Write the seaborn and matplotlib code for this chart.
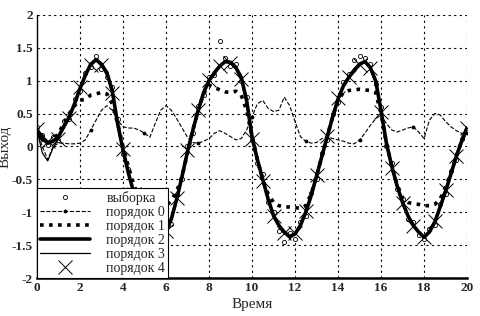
import numpy as np
import matplotlib
matplotlib.use('Agg')
import matplotlib.pyplot as plt
import seaborn as sns

# time grids
t = np.arange(0, 20.01, 0.25)
t4 = np.arange(0, 20.01, 0.5)

# sample (circles)
sample = [0.30, 0.18, 0.02, 0.14, 0.10, 0.38, 0.42, 0.72, 0.84, 1.12, 1.20, 1.38, 1.18, 1.05, 0.90, 0.42, -0.12, -0.35, -0.78, -0.90, -1.20,
          -1.25, -1.42, -1.35, -1.22, -1.18, -0.72, -0.50, 0.00, 0.20, 0.62, 0.78, 1.05, 1.08, 1.60, 1.35, 1.22, 1.25, 1.00, 0.75, 0.10,
          -0.25, -0.42, -0.85, -1.00, -1.28, -1.45, -1.32, -1.40, -1.15, -1.05, -0.70, -0.50, -0.10, 0.10, 0.50, 0.68, 0.98, 1.10, 1.32, 1.38,
          1.35, 1.25, 0.95, 0.60, 0.00, -0.25, -0.65, -0.80, -1.10, -1.15, -1.35, -1.40, -1.25, -1.20, -0.88, -0.72, -0.38, -0.20, 0.12, 0.22]

# order 0 (wavy thin dashed)
order0 = [0.25, 0.00, -0.20, 0.00, 0.05, 0.05, 0.04, 0.04, 0.05, 0.10, 0.25, 0.40, 0.55, 0.62, 0.55, 0.40, 0.30, 0.28, 0.28, 0.25, 0.20,
          0.14, 0.35, 0.55, 0.62, 0.55, 0.42, 0.28, 0.14, 0.06, 0.05, 0.08, 0.12, 0.20, 0.24, 0.20, 0.15, 0.10, 0.12, 0.25, 0.45,
          0.65, 0.70, 0.58, 0.53, 0.55, 0.75, 0.62, 0.38, 0.15, 0.08, 0.05, 0.06, 0.12, 0.15, 0.12, 0.10, 0.08, 0.05, 0.04, 0.10,
          0.20, 0.32, 0.42, 0.48, 0.35, 0.25, 0.22, 0.25, 0.28, 0.30, 0.22, 0.12, 0.40, 0.50, 0.48, 0.38, 0.30, 0.24, 0.20, 0.20]

# order 1 (thick dotted)
order1 = [0.25, 0.10, 0.05, 0.10, 0.20, 0.35, 0.50, 0.62, 0.70, 0.72, 0.78, 0.80, 0.82, 0.80, 0.65, 0.35, 0.00, -0.30, -0.58, -0.78, -0.88,
          -0.93, -0.95, -0.94, -0.90, -0.82, -0.68, -0.45, -0.10, 0.25, 0.55, 0.80, 0.93, 0.90, 0.86, 0.83, 0.82, 0.84, 0.78, 0.55, 0.15,
          -0.20, -0.50, -0.72, -0.85, -0.90, -0.92, -0.92, -0.93, -0.94, -0.90, -0.72, -0.45, -0.15, 0.15, 0.45, 0.70, 0.82, 0.85, 0.86, 0.87,
          0.86, 0.85, 0.82, 0.50, 0.05, -0.30, -0.58, -0.78, -0.85, -0.87, -0.88, -0.90, -0.90, -0.88, -0.80, -0.62, -0.40, -0.15, 0.08, 0.28]

# order 2 (thick solid)
order2 = [0.25, 0.12, 0.05, 0.08, 0.15, 0.30, 0.45, 0.65, 0.88, 1.08, 1.25, 1.32, 1.25, 1.12, 0.85, 0.35, -0.05, -0.40, -0.70, -0.95, -1.15,
          -1.30, -1.37, -1.38, -1.30, -1.10, -0.80, -0.45, -0.08, 0.25, 0.55, 0.82, 1.00, 1.12, 1.22, 1.29, 1.28, 1.20, 1.05, 0.70, 0.15,
          -0.20, -0.50, -0.80, -1.05, -1.20, -1.30, -1.37, -1.33, -1.20, -1.00, -0.75, -0.45, -0.15, 0.15, 0.45, 0.72, 0.92, 1.05, 1.16, 1.25,
          1.29, 1.20, 1.00, 0.55, 0.05, -0.30, -0.60, -0.85, -1.05, -1.20, -1.30, -1.38, -1.30, -1.15, -0.92, -0.68, -0.42, -0.15, 0.08, 0.28]

# order 3 (thin solid)
order3 = [0.25, -0.10, -0.22, -0.02, 0.12, 0.28, 0.46, 0.66, 0.90, 1.10, 1.26, 1.30, 1.22, 1.08, 0.80, 0.32, -0.08, -0.42, -0.72, -0.97, -1.17,
          -1.31, -1.38, -1.36, -1.27, -1.07, -0.77, -0.42, -0.05, 0.28, 0.57, 0.84, 1.02, 1.14, 1.23, 1.28, 1.26, 1.17, 1.00, 0.64, 0.10,
          -0.24, -0.54, -0.83, -1.07, -1.22, -1.32, -1.38, -1.31, -1.17, -0.97, -0.72, -0.42, -0.12, 0.18, 0.48, 0.74, 0.94, 1.07, 1.18, 1.26,
          1.28, 1.17, 0.95, 0.50, 0.00, -0.34, -0.63, -0.88, -1.08, -1.22, -1.32, -1.37, -1.27, -1.12, -0.89, -0.65, -0.39, -0.12, 0.11, 0.30]

# order 4 (x markers)
order4 = [0.27, 0.08, 0.12, 0.44, 0.90, 1.24, 1.24, 0.82, -0.04, -0.72, -1.16, -1.38, -1.28, -0.78, -0.06, 0.56, 1.01, 1.23, 1.27, 1.03,
          0.12, -0.52, -1.06, -1.31, -1.32, -0.98, -0.44, 0.16, 0.73, 1.06, 1.24, 1.19, 0.52, -0.32, -0.86, -1.21, -1.37, -1.14, -0.66, -0.14, 0.28]

xticks = [0, 2, 4, 6, 8, 10, 12, 14, 16, 18, 20]
yticks = [-2, -1.5, -1, -0.5, 0, 0.5, 1, 1.5, 2]
ytick_labels = ['-2', '-1.5', '-1', '-0.5', '0', '0.5', '1', '1.5', '2']

sns.set_style('white')
plt.rcParams['font.family'] = ['Liberation Serif', 'DejaVu Serif']

fig, ax = plt.subplots(figsize=(4.8, 3.16), dpi=100)
fig.subplots_adjust(left=0.077, right=0.973, bottom=0.12, top=0.953)

sns.lineplot(x=t, y=sample, ax=ax, color='k', linestyle='none', marker='o',
             markersize=3, markerfacecolor='white', markeredgecolor='k',
             markeredgewidth=0.6, label='выборка')
sns.lineplot(x=t, y=order0, ax=ax, color='k', linestyle='--', linewidth=0.8,
             marker='.', markersize=4, markeredgecolor='k', markevery=10,
             label='порядок 0')
sns.lineplot(x=t, y=order1, ax=ax, color='k', linestyle=(0, (1, 1.5)),
             linewidth=2.6, label='порядок 1')
sns.lineplot(x=t, y=order2, ax=ax, color='k', linestyle='-', linewidth=2.6,
             label='порядок 2')
sns.lineplot(x=t, y=order3, ax=ax, color='k', linestyle='-', linewidth=0.9,
             label='порядок 3')
sns.lineplot(x=t4, y=order4, ax=ax, color='k', linestyle='none', marker='x',
             markersize=10, markeredgecolor='k', markeredgewidth=0.7,
             label='порядок 4')

ax.set_xlim(0, 20)
ax.set_ylim(-2, 2)
ax.set_xticks(xticks)
ax.set_yticks(yticks)
ax.set_yticklabels(ytick_labels)
ax.tick_params(length=0, labelsize=9.5, pad=3)
for lab in ax.get_xticklabels() + ax.get_yticklabels():
    lab.set_fontweight('bold')

ax.grid(True, color='k', linestyle=(0, (2, 3)), linewidth=0.8)
ax.spines['top'].set_visible(False)
ax.spines['right'].set_visible(False)
ax.spines['left'].set_color('k')
ax.spines['left'].set_linewidth(1.0)
ax.spines['bottom'].set_color('k')
ax.spines['bottom'].set_linewidth(1.8)

ax.set_xlabel('Время', fontsize=11, labelpad=3)
ax.set_ylabel('Выход', fontsize=11)
ax.yaxis.set_label_coords(-0.058, 0.5)

leg = ax.legend(loc='lower left', frameon=True, fancybox=False, edgecolor='k',
                framealpha=1, borderaxespad=0, fontsize=10, handlelength=3.6,
                labelspacing=0.08, borderpad=0.2, handletextpad=1.2)
leg.get_frame().set_linewidth(0.8)

fig.savefig('out.png', dpi=100)
